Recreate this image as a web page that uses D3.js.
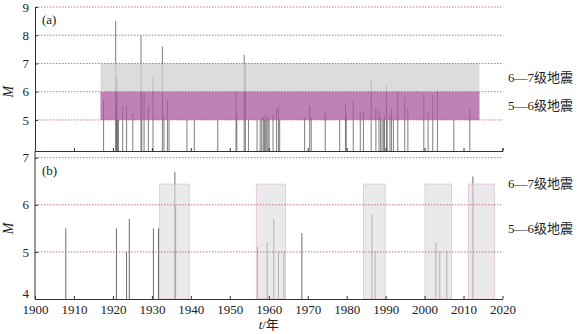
<!DOCTYPE html>
<html>
<head>
<meta charset="utf-8">
<script src="https://cdn.jsdelivr.net/npm/d3@7"></script>
<style>
  body { margin: 0; background: #fff; }
  svg text { font-family: "Liberation Serif", "Times New Roman", "Noto Sans CJK SC", serif; fill: #222; }
</style>
</head>
<body>
<div id="chart"></div>
<script>
const width = 579;
const height = 334;

// panel (a): all events, [year, magnitude]
const eventsA = [
  [1917.6, 5.7], [1920.7, 8.5], [1921.0, 6.5], [1920.9, 5.5], [1921.2, 5.0], [1921.4, 5.0],
  [1922.5, 5.5], [1923.5, 5.5], [1925.1, 5.2], [1927.2, 8.0], [1927.4, 6.0], [1928.0, 6.0],
  [1929.1, 5.5], [1930.3, 6.5], [1932.7, 7.6], [1933.1, 5.2], [1934.0, 5.7], [1934.4, 5.0],
  [1939.0, 5.0], [1940.9, 5.0], [1946.9, 5.0], [1951.6, 6.0], [1951.8, 5.2], [1953.7, 7.3],
  [1954.0, 7.0], [1954.8, 5.0], [1957.0, 5.0], [1957.8, 5.0], [1958.2, 5.1], [1958.6, 5.1],
  [1958.9, 5.0], [1959.2, 5.2], [1959.5, 5.0], [1959.8, 5.1], [1960.1, 5.0], [1961.1, 5.2],
  [1962.0, 5.4], [1962.5, 5.5], [1962.8, 5.0], [1969.2, 5.1], [1970.5, 5.5], [1970.9, 5.1],
  [1974.5, 5.3], [1978.2, 5.0], [1979.7, 5.6], [1979.9, 5.2], [1981.7, 5.7], [1983.5, 5.3],
  [1984.3, 5.3], [1986.3, 6.4], [1987.5, 5.4], [1988.3, 5.3], [1988.7, 5.1], [1989.1, 5.0],
  [1989.5, 5.0], [1989.7, 5.15], [1990.2, 6.2], [1990.4, 5.0], [1991.1, 5.2], [1991.5, 5.4],
  [1992.0, 5.0], [1993.1, 6.0], [1994.9, 5.8], [1995.7, 5.4], [1999.8, 5.9], [2000.9, 5.3],
  [2002.1, 5.9], [2003.3, 6.1], [2007.5, 5.0], [2011.6, 5.4]
];

// magnitude bands in (a): [lowM, highM, label]
const bandsA = [[6, 7, "6—7级地震"], [5, 6, "5—6级地震"]];
const bandYears = [1916.8, 2014.1];

// panel (b): selected events
const eventsB = [
  [1907.9, 5.5], [1920.9, 5.5], [1923.5, 5.0], [1924.2, 5.7], [1930.4, 5.5], [1931.7, 5.5],
  [1935.9, 6.7], [1936.1, 6.0], [1936.0, 5.0], [1957.1, 5.1], [1959.6, 5.2], [1961.3, 5.7],
  [1962.5, 5.0], [1963.9, 5.0], [1968.5, 5.4], [1986.5, 5.8], [1987.3, 5.0], [2002.9, 5.2],
  [2003.9, 5.0], [2005.7, 5.0], [2012.4, 6.6]
];

// active periods in (b): [startYear, endYear]
const periodsB = [[1932.0, 1939.6], [1956.8, 1964.3], [1984.3, 1989.9], [2000.1, 2006.9], [2011.3, 2017.9]];
const periodTop = 6.44;
const labelsB = [[6.45, "6—7级地震"], [5.5, "5—6级地震"]];

const yearTicks = d3.range(1900, 2021, 10);
const ticksA = [5, 6, 7, 8, 9];
const ticksB = [4, 5, 6, 7];

const svg = d3.select("#chart").append("svg")
  .attr("width", width)
  .attr("height", height);

const x = d3.scaleLinear().domain([1900, 2020]).range([35, 502.5]);
const yA = d3.scaleLinear().domain([3.9, 9]).range([151, 7]);
const yB = d3.scaleLinear().domain([4, 7]).range([299, 157.7]);

const gridColor = "#b8545e";
const spikeColor = "#555";
const fmt = d3.format("d");

// ---------- panel (a) ----------
const ga = svg.append("g");

ga.selectAll("line.spike")
  .data(eventsA)
  .join("line")
  .attr("class", "spike")
  .attr("x1", d => x(d[0])).attr("x2", d => x(d[0]))
  .attr("y1", yA(3.9)).attr("y2", d => yA(d[1]))
  .attr("stroke", spikeColor)
  .attr("stroke-opacity", 0.7)
  .attr("stroke-width", 1.1);

ga.selectAll("rect.band")
  .data(bandsA)
  .join("rect")
  .attr("class", "band")
  .attr("x", x(bandYears[0]))
  .attr("width", x(bandYears[1]) - x(bandYears[0]))
  .attr("y", d => yA(d[1]))
  .attr("height", d => yA(d[0]) - yA(d[1]))
  .attr("fill", (d, i) => i === 0 ? "#d0d0d0" : "#ab55a0")
  .attr("opacity", 0.75);

ga.selectAll("line.grid")
  .data(ticksA)
  .join("line")
  .attr("class", "grid")
  .attr("x1", x(1900)).attr("x2", x(2020))
  .attr("y1", d => yA(d)).attr("y2", d => yA(d))
  .attr("stroke", gridColor)
  .attr("stroke-width", 0.8)
  .attr("stroke-dasharray", "1.5,1.5");

ga.append("g")
  .attr("transform", `translate(0,${yA(3.9)})`)
  .call(d3.axisTop(x).tickValues(yearTicks).tickSize(3).tickFormat(""))
  .call(g => g.select(".domain").attr("stroke", "#333"))
  .call(g => g.selectAll(".tick line").attr("stroke", "#333"));

ga.append("g")
  .attr("transform", `translate(${x(1900)},0)`)
  .call(d3.axisRight(yA).tickValues(ticksA).tickSize(3).tickSizeOuter(0).tickFormat(fmt))
  .attr("font-family", null).attr("font-size", 13)
  .call(g => g.select(".domain").attr("stroke", "#333"))
  .call(g => g.selectAll(".tick line").attr("stroke", "#333"))
  .call(g => g.selectAll(".tick text").attr("x", -6).attr("text-anchor", "end"));

ga.append("text").attr("x", 42).attr("y", 24).attr("font-size", 13).text("(a)");

ga.selectAll("text.band-label")
  .data(bandsA)
  .join("text")
  .attr("class", "band-label")
  .attr("x", 508)
  .attr("y", d => yA((d[0] + d[1]) / 2))
  .attr("dy", "0.35em")
  .attr("font-size", 13)
  .text(d => d[2]);

ga.append("text")
  .attr("transform", `translate(13,${yA(6)}) rotate(-90)`)
  .attr("text-anchor", "middle")
  .attr("font-size", 14)
  .attr("font-style", "italic")
  .text("M");

// ---------- panel (b) ----------
const gb = svg.append("g");

gb.selectAll("line.spike")
  .data(eventsB)
  .join("line")
  .attr("class", "spike")
  .attr("x1", d => x(d[0])).attr("x2", d => x(d[0]))
  .attr("y1", yB(4)).attr("y2", d => yB(d[1]))
  .attr("stroke", "#555")
  .attr("stroke-opacity", 0.85)
  .attr("stroke-width", 1);

gb.selectAll("rect.period")
  .data(periodsB)
  .join("rect")
  .attr("class", "period")
  .attr("x", d => x(d[0]))
  .attr("width", d => x(d[1]) - x(d[0]))
  .attr("y", yB(periodTop))
  .attr("height", yB(4) - yB(periodTop))
  .attr("fill", "#dcdcdc")
  .attr("fill-opacity", 0.6)
  .attr("stroke", "#e4bfdc")
  .attr("stroke-width", 0.8);

gb.selectAll("line.grid")
  .data([5, 6, 7])
  .join("line")
  .attr("class", "grid")
  .attr("x1", x(1900)).attr("x2", x(2020))
  .attr("y1", d => yB(d)).attr("y2", d => yB(d))
  .attr("stroke", gridColor)
  .attr("stroke-width", 0.8)
  .attr("stroke-dasharray", "1.5,1.5");

gb.append("g")
  .attr("transform", `translate(0,${yB(4)})`)
  .call(d3.axisBottom(x).tickValues(yearTicks).tickSize(0).tickFormat(fmt))
  .attr("font-family", null).attr("font-size", 13)
  .call(g => g.select(".domain").attr("stroke", "#333"))
  .call(g => g.selectAll(".tick text").attr("dy", "0.75em").attr("y", 5));

gb.append("g")
  .attr("transform", `translate(0,${yB(4)})`)
  .call(d3.axisTop(x).tickValues(yearTicks).tickSize(3).tickFormat("").tickSizeOuter(0))
  .call(g => g.select(".domain").remove())
  .call(g => g.selectAll(".tick line").attr("stroke", "#333"));

gb.append("line")
  .attr("x1", x(1900)).attr("x2", x(1900))
  .attr("y1", yA(3.9)).attr("y2", yB(4))
  .attr("stroke", "#333");

gb.append("g")
  .attr("transform", `translate(${x(1900)},0)`)
  .call(d3.axisRight(yB).tickValues(ticksB).tickSize(3).tickSizeOuter(0).tickFormat(fmt))
  .attr("font-family", null).attr("font-size", 13)
  .call(g => g.select(".domain").remove())
  .call(g => g.selectAll(".tick line").attr("stroke", "#333"))
  .call(g => g.selectAll(".tick text").attr("x", -6).attr("text-anchor", "end")
    .attr("dy", d => d === 4 ? "-0.1em" : "0.32em"));

gb.append("text").attr("x", 42).attr("y", 175).attr("font-size", 13).text("(b)");

gb.selectAll("text.band-label")
  .data(labelsB)
  .join("text")
  .attr("class", "band-label")
  .attr("x", 508)
  .attr("y", d => yB(d[0]))
  .attr("dy", "0.35em")
  .attr("font-size", 13)
  .text(d => d[1]);

gb.append("text")
  .attr("transform", `translate(13,${yB(5.5)}) rotate(-90)`)
  .attr("text-anchor", "middle")
  .attr("font-size", 14)
  .attr("font-style", "italic")
  .text("M");

const xl = gb.append("text")
  .attr("x", x(1960))
  .attr("y", 329)
  .attr("text-anchor", "middle")
  .attr("font-size", 13);
xl.append("tspan").attr("font-style", "italic").text("t");
xl.append("tspan").text("/年");
</script>
</body>
</html>
